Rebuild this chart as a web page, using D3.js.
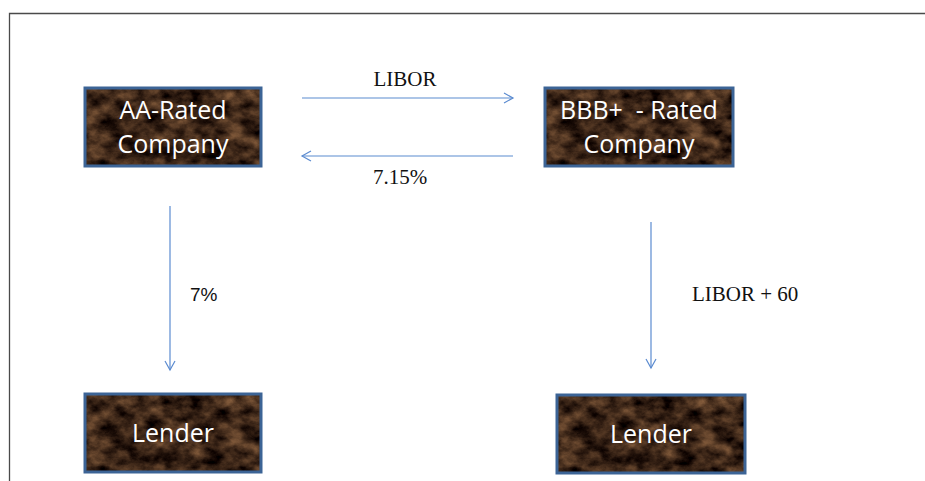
<!DOCTYPE html>
<html>
<head>
<meta charset="utf-8">
<script src="https://cdn.jsdelivr.net/npm/d3@7"></script>
<style>
  body { margin: 0; background: #fff; }
  svg { display: block; }
</style>
</head>
<body>
<div class="chart"></div>
<script>
// diagram content
var nodeIds = ["aa", "bbb", "lenderA", "lenderB"];
var nodeLabels = [["AA-Rated", "Company"], ["BBB+  - Rated", "Company"], ["Lender"], ["Lender"]];
var flowFrom = ["aa", "bbb", "aa", "bbb"];
var flowTo = ["bbb", "aa", "lenderA", "lenderB"];
var flowLabels = ["LIBOR", "7.15%", "7%", "LIBOR + 60"];

// layout (pixels)
var boxes = {
  aa:      {x: 85,  y: 88,  w: 176, h: 78},
  bbb:     {x: 545, y: 88,  w: 188, h: 78},
  lenderA: {x: 85,  y: 394, w: 176, h: 78},
  lenderB: {x: 557, y: 395, w: 188, h: 78}
};
var arrows = [
  {x1: 302, y1: 98,  x2: 513, y2: 98,  lx: 405, ly: 86,  font: "serif"},
  {x1: 513, y1: 156, x2: 302, y2: 156, lx: 400, ly: 184, font: "serif"},
  {x1: 170, y1: 206, x2: 170, y2: 370, lx: 190, ly: 301, font: "sans", anchor: "start"},
  {x1: 651, y1: 222, x2: 651, y2: 368, lx: 692, ly: 301, font: "serif", anchor: "start"}
];

var svgWidth = 925, svgHeight = 481;

var svg = d3.select(".chart")
  .append("svg")
  .attr("width", svgWidth)
  .attr("height", svgHeight);

var defs = svg.append("defs");

// marble-ish brown texture
var filter = defs.append("filter")
  .attr("id", "marble")
  .attr("color-interpolation-filters", "sRGB")
  .attr("x", 0).attr("y", 0).attr("width", 1).attr("height", 1);
filter.append("feTurbulence")
  .attr("type", "fractalNoise")
  .attr("baseFrequency", "0.05 0.07")
  .attr("numOctaves", 5)
  .attr("seed", 7)
  .attr("result", "noise");
filter.append("feColorMatrix")
  .attr("in", "noise")
  .attr("type", "matrix")
  .attr("values",
    "0.8 0 0 0 -0.17 " +
    "0.6 0 0 0 -0.155 " +
    "0.4 0 0 0 -0.11 " +
    "0 0 0 0 1");

defs.append("marker")
  .attr("id", "head")
  .attr("markerUnits", "userSpaceOnUse")
  .attr("viewBox", "-10 -7 12 14")
  .attr("refX", 0).attr("refY", 0)
  .attr("markerWidth", 12).attr("markerHeight", 14)
  .attr("orient", "auto")
  .append("path")
  .attr("d", "M-9,-5 L0,0 L-9,5")
  .attr("fill", "none")
  .attr("stroke", "#5b8bd0")
  .attr("stroke-width", 1.2);

// page frame
svg.append("path")
  .attr("d", "M9.5,481 L9.5,13.5 L925,13.5")
  .attr("fill", "none")
  .attr("stroke", "#4a4a4a")
  .attr("stroke-width", 1.3);

// boxes
var nodeGroup = svg.selectAll("g.node")
  .data(nodeIds)
  .enter()
  .append("g")
  .attr("class", "node")
  .attr("transform", d => `translate(${boxes[d].x}, ${boxes[d].y})`);

nodeGroup.append("rect")
  .attr("width", d => boxes[d].w)
  .attr("height", d => boxes[d].h)
  .attr("fill", "#4a301d");

nodeGroup.append("rect")
  .attr("width", d => boxes[d].w)
  .attr("height", d => boxes[d].h)
  .attr("filter", "url(#marble)");

nodeGroup.append("rect")
  .attr("width", d => boxes[d].w)
  .attr("height", d => boxes[d].h)
  .attr("fill", "none")
  .attr("stroke", "#3c6496")
  .attr("stroke-width", 3);

nodeGroup.each(function(d, i) {
  var lines = nodeLabels[i];
  var b = boxes[d];
  var lineH = 34;
  var y0 = b.h / 2 - (lines.length - 1) * lineH / 2 + 9;
  d3.select(this).selectAll("text")
    .data(lines)
    .enter()
    .append("text")
    .attr("x", b.w / 2)
    .attr("y", (t, j) => y0 + j * lineH)
    .attr("text-anchor", "middle")
    .style("white-space", "pre")
    .attr("fill", "#fff")
    .style("font-family", "'Open Sans', 'Noto Sans', sans-serif")
    .style("font-size", "25px")
    .text(t => t);
});

// flows
var flowGroup = svg.selectAll("g.flow")
  .data(flowLabels)
  .enter()
  .append("g")
  .attr("class", "flow");

flowGroup.append("line")
  .attr("x1", (d, i) => arrows[i].x1)
  .attr("y1", (d, i) => arrows[i].y1)
  .attr("x2", (d, i) => arrows[i].x2)
  .attr("y2", (d, i) => arrows[i].y2)
  .attr("stroke", "#5b8bd0")
  .attr("stroke-width", 1.2)
  .attr("marker-end", "url(#head)");

flowGroup.append("text")
  .attr("x", (d, i) => arrows[i].lx)
  .attr("y", (d, i) => arrows[i].ly)
  .attr("text-anchor", (d, i) => arrows[i].anchor || "middle")
  .style("font-family", (d, i) => arrows[i].font === "serif" ? "'Liberation Serif', serif" : "'Liberation Sans', Arial, sans-serif")
  .style("font-size", (d, i) => arrows[i].font === "serif" ? "21px" : "19px")
  .attr("fill", "#111")
  .text(d => d);
</script>
</body>
</html>
